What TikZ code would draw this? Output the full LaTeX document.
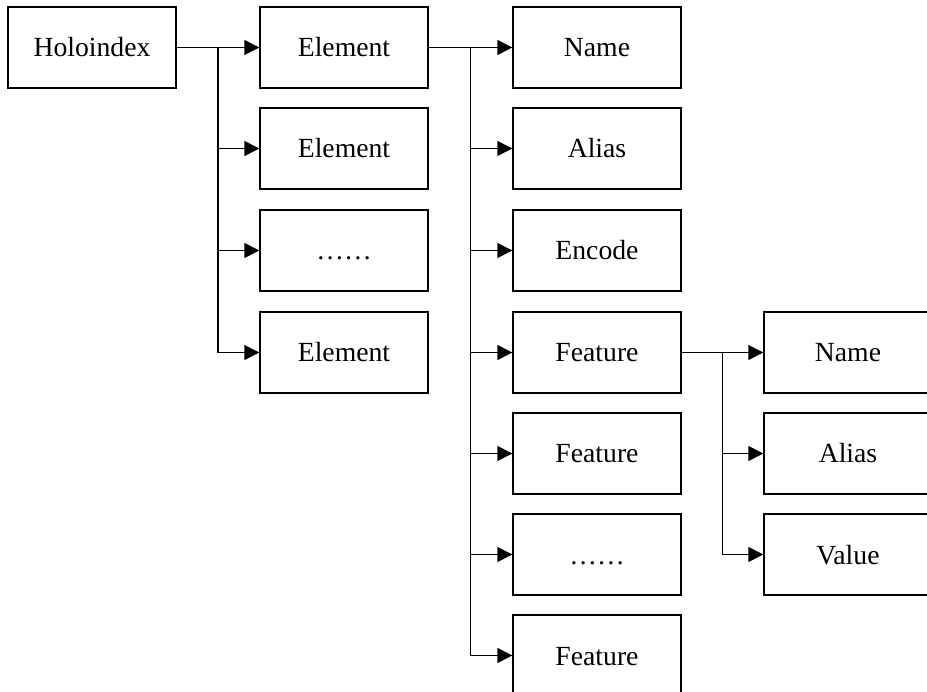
\documentclass[tikz,border=0pt]{standalone}
\usepackage{fontspec}
\setmainfont{Liberation Serif}
\usetikzlibrary{arrows.meta,calc}
\begin{document}
\begin{tikzpicture}[x=1pt,y=-1pt,
  box/.style={draw, line width=1.4pt, minimum width=168pt, minimum height=81pt,
    inner sep=0pt, text height=24pt, text depth=5pt,
    font=\fontsize{27.7}{32}\selectfont},
  link/.style={line width=1.4pt, -{Triangle[length=15pt,width=15pt]}}]
\useasboundingbox (0,0) rectangle (927,692);
\clip (0,0) rectangle (927,692);
% column 0
\node[box] (h) at (92,47.5) {Holoindex};
% column 1: elements
\node[box] (e1) at (344,47.5) {Element};
\node[box] (e2) at (344,148.5) {Element};
\node[box] (e3) at (344,250.5) {……};
\node[box] (e4) at (344,352.5) {Element};
% column 2: element members
\node[box] (m1) at (597,47.5) {Name};
\node[box] (m2) at (597,148.5) {Alias};
\node[box] (m3) at (597,250.5) {Encode};
\node[box] (m4) at (597,352.5) {Feature};
\node[box] (m5) at (597,453.5) {Feature};
\node[box] (m6) at (597,554.5) {……};
\node[box] (m7) at (597,655.5) {Feature};
% column 3: feature members
\node[box] (f1) at (848,352.5) {Name};
\node[box] (f2) at (848,453.5) {Alias};
\node[box] (f3) at (848,554.5) {Value};
% trunk points
\coordinate (t1) at ($(h.east)!0.5!(e1.west)$);
\coordinate (t2) at ($(e1.east)!0.5!(m1.west)$);
\coordinate (t3) at ($(m4.east)!0.5!(f1.west)$);
% connectors
\draw[link] (h.east) -- (e1.west);
\foreach \c in {e2,e3,e4} \draw[link] (t1) |- (\c.west);
\draw[link] (e1.east) -- (m1.west);
\foreach \c in {m2,m3,m4,m5,m6,m7} \draw[link] (t2) |- (\c.west);
\draw[link] (m4.east) -- (f1.west);
\foreach \c in {f2,f3} \draw[link] (t3) |- (\c.west);
\end{tikzpicture}
\end{document}
